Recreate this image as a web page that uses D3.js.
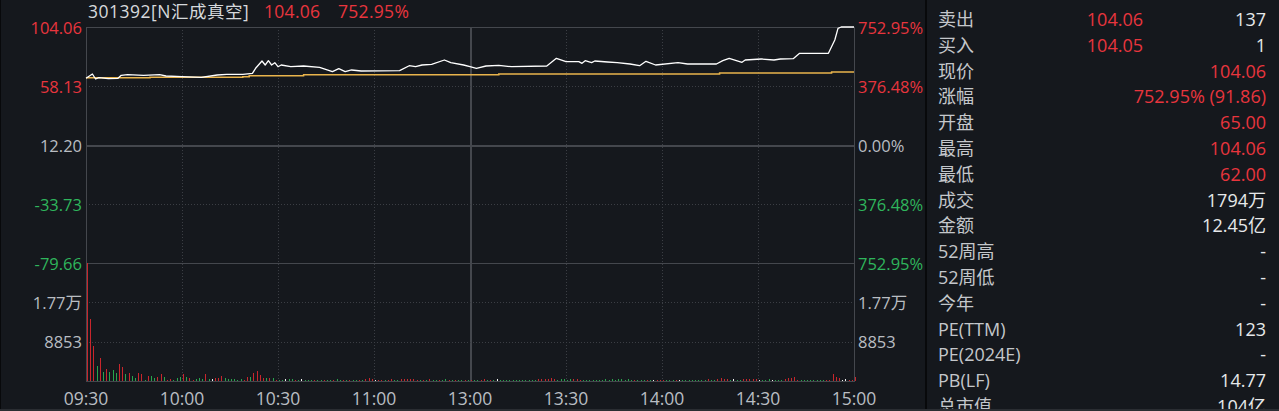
<!DOCTYPE html>
<html>
<head>
  <meta charset="utf-8">
  <title>301392 分时</title>
  <style>
    html, body { margin: 0; padding: 0; background: #15181d; }
    svg { display: block; }
    text { font-family: "Open Sans", "Noto Sans CJK SC", sans-serif; }
  </style>
</head>
<body>
  <svg id="chart"></svg>

  <script src="https://d3js.org/d3.v7.min.js"></script>
  <script>
    // header
    const stockName = "301392[N汇成真空]";
    const lastPrice = "104.06";
    const lastPct = "752.95%";

    // price axis
    const preClose = 12.20;
    const priceTicks = [104.06, 58.13, 12.20, -33.73, -79.66];
    const pctTicks = ["752.95%", "376.48%", "0.00%", "376.48%", "752.95%"];
    const volTicks = [17706, 8853];
    const volTickLabels = ["1.77万", "8853"];
    const timeTicks = ["09:30", "10:00", "10:30", "11:00", "13:00", "13:30", "14:00", "14:30", "15:00"];

    // price line (minute, price)
    const priceTimes = ["09:30","09:32","09:33","09:34","09:37","09:40","09:41","09:43","09:48","09:53","09:55","10:00","10:06","10:11","10:14","10:19","10:22","10:23","10:25","10:26","10:27","10:28","10:29","10:30","10:31","10:34","10:38","10:43","10:47","10:49","10:51","10:53","10:56","11:08","11:11","11:13","11:15","11:18","11:22","11:24","11:28","11:30","13:02","13:05","13:09","13:13","13:24","13:27","13:30","13:34","13:35","13:36","13:38","13:39","13:43","13:46","13:50","13:53","13:55","13:58","14:05","14:08","14:17","14:19","14:21","14:25","14:26","14:31","14:35","14:37","14:41","14:43","14:52","14:54","14:55","14:56","15:00"];
    const priceValues = [64.12,67.47,63.58,64.59,63.81,64.12,66.46,66.93,66.46,66.93,65.92,65.37,64.90,66.70,67.24,67.24,68.02,71.91,77.59,74.48,77.83,74.48,76.27,73.15,74.48,73.15,73.70,72.69,69.26,71.60,69.26,70.59,69.81,70.04,73.93,73.15,74.48,75.02,78.37,76.27,74.48,73.15,71.91,73.70,74.25,73.15,73.70,79.69,77.05,77.05,75.80,77.83,76.27,77.60,76.81,76.27,75.26,73.93,77.36,74.48,76.27,75.26,75.26,77.83,79.69,76.58,78.37,79.15,78.37,79.15,79.40,83.59,83.59,93.94,103.05,104.06,104.06];

    // average price line
    const avgTimes = ["09:30","09:50","10:19","10:21","10:38","13:09","14:18","14:53","15:00"];
    const avgValues = [64.60,64.90,65.37,66.07,66.93,67.55,68.25,69.03,69.03];

    // per-minute volume (shares) and direction: r up, g down, w flat
    const volumes = [
      26500,13950,7880,3380,5250,2100,2700,2030,2480,1870,
      3830,3220,1580,1800,1200,600,1800,1580,300,1130,
      1130,600,830,1580,900,225,520,225,750,970,
      1580,830,750,300,520,600,380,1580,450,450,
      600,750,1130,600,450,380,450,300,520,300,
      900,970,1870,2250,1350,680,680,680,680,225,
      225,150,520,380,380,300,300,400,200,250,
      300,200,250,300,200,250,300,200,350,250,
      300,200,250,300,200,300,250,400,600,550,
      300,200,250,200,300,400,250,200,450,500,
      400,350,450,300,250,300,200,350,250,200,
      300,250,400,250,300,200,250,300,250,200,
      300,250,200,300,350,250,300,200,500,200,
      300,250,200,300,250,300,250,200,300,250,
      300,450,500,550,500,600,450,300,350,400,
      300,350,450,500,300,250,200,250,300,200,
      250,300,350,300,400,250,350,400,300,350,
      250,300,200,250,300,200,300,250,300,200,
      250,300,200,250,300,250,300,200,250,300,
      200,250,300,200,350,300,250,450,600,500,
      350,300,400,300,250,450,550,500,450,350,
      250,300,250,350,250,300,250,300,350,600,
      650,970,300,250,200,250,200,250,200,250,
      200,300,300,1580,970,600,250,450,200,250,
      800
    ];
    const volDirs = [
      "rrrgrgrggg", "rrgrggrrgr", "ggrrgrrggg", "rgrrgggrgw", "rrrggggggr",
      "rgrrrrgrgr", "ggwggrgwgg", "grggrggrgg", "rgrggrgrrr", "wrrgrrggrr",
      "rrrrgrgrgg", "rggrgrggrg", "rggrrgrgwg", "gggggggggg", "grrrrrrggg",
      "ggrrrggggg", "gggggggggg", "grgggrgwrr", "rgggrwgggg", "ggggrggrrr",
      "rgwggrrrrr", "wgggwgggrr", "rrrggggggg", "grrrrrwwrr", "r"
    ].join("").split("");

    // side panel
    const panelLabels = ["卖出","买入","现价","涨幅","开盘","最高","最低","成交","金额","52周高","52周低","今年","PE(TTM)","PE(2024E)","PB(LF)","总市值"];
    const panelMid = ["104.06","104.05","","","","","","","","","","","","","",""];
    const panelValues = ["137","1","104.06","752.95% (91.86)","65.00","104.06","62.00","1794万","12.45亿","-","-","-","123","-","14.77","104亿"];
    const panelRed = [false,false,true,true,true,true,true,false,false,false,false,false,false,false,false,false];

    const W = 1279, H = 411;
    const pLeft = 86, pRight = 854, pTop = 27, pMid = 263, pBottom = 381;
    const RED = "#e8353d", GREEN = "#2fb55c", GREY = "#b9bdc2", GRID = "#3b3e44";

    const toIndex = (t) => {
      const [h, m] = t.split(":").map(Number);
      const mins = h * 60 + m;
      return mins <= 690 ? mins - 570 : 120 + (mins - 780);
    };

    const x = d3.scaleLinear().domain([0, 240]).range([pLeft, pRight]);
    const yPrice = d3.scaleLinear().domain([-79.66, 104.06]).range([pMid, pTop]);
    const yVol = d3.scaleLinear().domain([0, 26559]).range([pBottom, pMid]);

    const svg = d3.select("#chart").attr("width", W).attr("height", H);
    svg.append("rect").attr("width", W).attr("height", H).attr("fill", "#15181d");

    // grid
    const grid = svg.append("g").attr("shape-rendering", "crispEdges");
    timeTicks.forEach((t) => {
      const i = toIndex(t);
      if (i === 0 || i === 240) return;
      grid.append("line")
        .attr("x1", Math.round(x(i)) + 0.5).attr("x2", Math.round(x(i)) + 0.5)
        .attr("y1", pTop).attr("y2", pBottom)
        .attr("stroke", i === 120 ? "#44474d" : GRID)
        .attr("stroke-width", i === 120 ? 2 : 1)
        .attr("stroke-dasharray", i === 120 ? null : "1,2");
    });
    priceTicks.forEach((p, k) => {
      if (k === 0) return;
      const solid = p === preClose || k === priceTicks.length - 1;
      grid.append("line")
        .attr("x1", pLeft).attr("x2", pRight)
        .attr("y1", Math.round(yPrice(p)) + 0.5).attr("y2", Math.round(yPrice(p)) + 0.5)
        .attr("stroke", solid ? "#44474d" : GRID)
        .attr("stroke-width", solid && p === preClose ? 2 : 1)
        .attr("stroke-dasharray", solid ? null : "1,2");
    });
    volTicks.forEach((v) => {
      grid.append("line")
        .attr("x1", pLeft).attr("x2", pRight)
        .attr("y1", Math.round(yVol(v)) + 0.5).attr("y2", Math.round(yVol(v)) + 0.5)
        .attr("stroke", GRID).attr("stroke-dasharray", "1,2");
    });
    grid.append("rect")
      .attr("x", pLeft + 0.5).attr("y", pTop + 0.5)
      .attr("width", pRight - pLeft).attr("height", pBottom - pTop)
      .attr("fill", "none").attr("stroke", "#44474d");

    // volume bars
    svg.append("g").attr("shape-rendering", "crispEdges")
      .selectAll("rect")
      .data(volumes)
      .join("rect")
      .attr("x", (d, i) => Math.round(x(i)) + 1)
      .attr("width", 1)
      .attr("y", (d) => yVol(d))
      .attr("height", (d) => pBottom - yVol(d))
      .attr("fill", (d, i) => volDirs[i] === "r" ? "#c8262c" : volDirs[i] === "g" ? "#27a54d" : "#f0f0f0");

    // average line
    const avgLine = d3.line()
      .x((d) => x(toIndex(d[0])))
      .y((d) => yPrice(d[1]))
      .curve(d3.curveStepAfter);
    svg.append("path")
      .datum(avgTimes.map((t, i) => [t, avgValues[i]]))
      .attr("d", avgLine)
      .attr("fill", "none")
      .attr("stroke", "#e9b44c")
      .attr("stroke-width", 1.5);

    // price line
    const priceLine = d3.line()
      .x((d) => x(toIndex(d[0])))
      .y((d) => yPrice(d[1]));
    svg.append("path")
      .datum(priceTimes.map((t, i) => [t, priceValues[i]]))
      .attr("d", priceLine)
      .attr("fill", "none")
      .attr("stroke", "#ffffff")
      .attr("stroke-width", 1.3)
      .attr("stroke-linejoin", "round");

    // left axis labels
    const tickColor = (k) => k < 2 ? RED : k === 2 ? GREY : GREEN;
    svg.append("g")
      .selectAll("text")
      .data(priceTicks)
      .join("text")
      .attr("x", 82).attr("y", (d) => yPrice(d))
      .attr("text-anchor", "end").attr("dominant-baseline", "central")
      .attr("font-size", 16.5)
      .attr("fill", (d, k) => tickColor(k))
      .text((d) => d.toFixed(2));
    svg.append("g")
      .selectAll("text")
      .data(volTicks)
      .join("text")
      .attr("x", 82).attr("y", (d) => yVol(d))
      .attr("text-anchor", "end").attr("dominant-baseline", "central")
      .attr("font-size", 16.5).attr("fill", GREY)
      .text((d, k) => volTickLabels[k]);

    // right axis labels
    svg.append("g")
      .selectAll("text")
      .data(priceTicks)
      .join("text")
      .attr("x", 858).attr("y", (d) => yPrice(d))
      .attr("dominant-baseline", "central")
      .attr("font-size", 16.5)
      .attr("fill", (d, k) => tickColor(k))
      .text((d, k) => pctTicks[k]);
    svg.append("g")
      .selectAll("text")
      .data(volTicks)
      .join("text")
      .attr("x", 858).attr("y", (d) => yVol(d))
      .attr("dominant-baseline", "central")
      .attr("font-size", 16.5).attr("fill", GREY)
      .text((d, k) => volTickLabels[k]);

    // time axis
    svg.append("g")
      .selectAll("text")
      .data(timeTicks)
      .join("text")
      .attr("x", (d) => x(toIndex(d)))
      .attr("y", 398)
      .attr("text-anchor", "middle").attr("dominant-baseline", "central")
      .attr("font-size", 17.5).attr("fill", GREY)
      .text((d) => d);

    // header
    const head = svg.append("text").attr("y", 18).attr("font-size", 17.5);
    head.append("tspan").attr("x", 88).attr("fill", "#d6d9dc").attr("letter-spacing", 0.5).text(stockName);
    head.append("tspan").attr("x", 264).attr("fill", RED).attr("letter-spacing", 0.3).text(lastPrice);
    head.append("tspan").attr("x", 338).attr("fill", RED).attr("letter-spacing", 0.3).text(lastPct);

    // side panel
    svg.append("rect").attr("x", 925).attr("y", 0).attr("width", 2).attr("height", H).attr("fill", "#08090b");
    svg.append("rect").attr("x", 0).attr("y", 0).attr("width", 1).attr("height", H).attr("fill", "#08090b");
    const rowY = d3.scaleLinear().domain([0, 15]).range([19, 406]);
    const panel = svg.append("g").attr("font-size", 18);
    panel.selectAll("text.lab")
      .data(panelLabels)
      .join("text").attr("class", "lab")
      .attr("x", 938).attr("y", (d, i) => rowY(i))
      .attr("dominant-baseline", "central")
      .attr("fill", "#c4c7cb")
      .text((d) => d);
    panel.selectAll("text.mid")
      .data(panelMid)
      .join("text").attr("class", "mid")
      .attr("x", 1143).attr("y", (d, i) => rowY(i))
      .attr("text-anchor", "end").attr("dominant-baseline", "central")
      .attr("fill", RED)
      .text((d) => d);
    panel.selectAll("text.val")
      .data(panelValues)
      .join("text").attr("class", "val")
      .attr("x", 1266).attr("y", (d, i) => rowY(i))
      .attr("text-anchor", "end").attr("dominant-baseline", "central")
      .attr("fill", (d, i) => panelRed[i] ? RED : "#e6e8ea")
      .text((d) => d);

    svg.append("rect").attr("x", 0).attr("y", 409).attr("width", W).attr("height", 2).attr("fill", "#2a2d32");
  </script>
</body>
</html>
